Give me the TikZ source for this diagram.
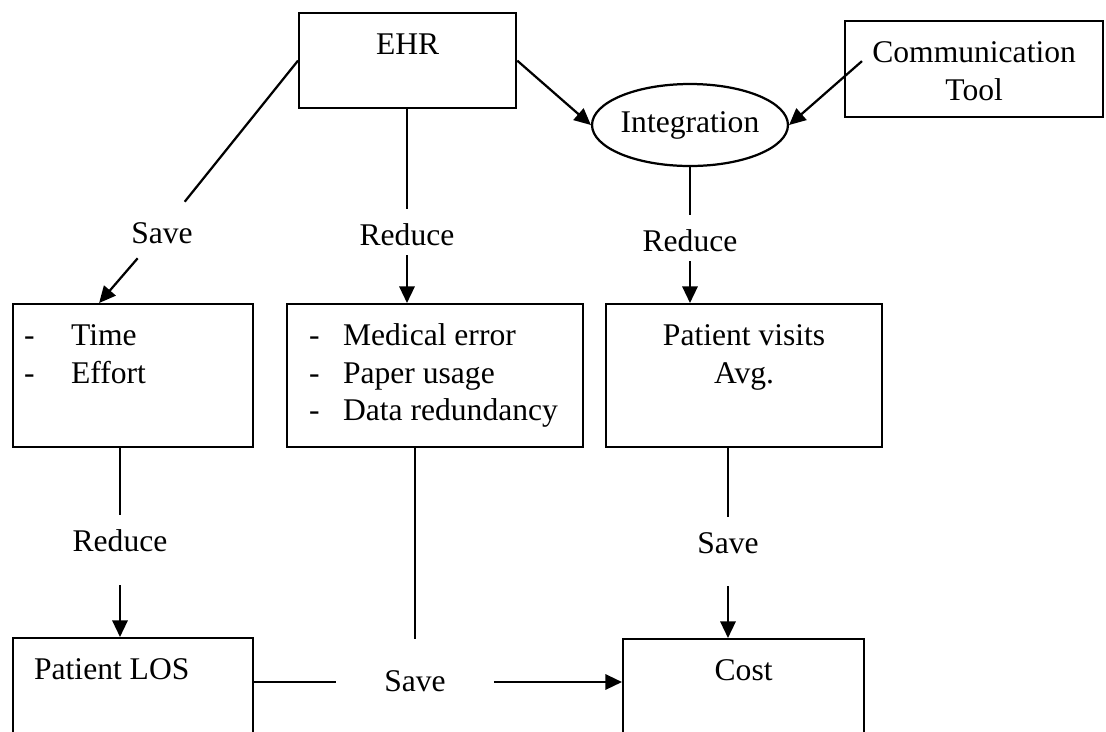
\documentclass[tikz,border=0pt]{standalone}
\usepackage{fontspec}
\setmainfont{Liberation Serif}
\usetikzlibrary{arrows.meta,shapes.geometric}
\newlength\px
\setlength\px{0.38pt}
\newcommand\boxtext[4]{\parbox[c][#2\px][t]{#1\px}{#3\rule{0pt}{41\px}#4}}
\newcommand\dashitem[3]{\hspace*{#1\px}\makebox[#2\px][l]{-}#3}
\begin{document}
\begin{tikzpicture}[x=0.38pt,y=-0.38pt,
  font=\fontsize{12}{14.4}\selectfont,line width=0.85pt,
  >={Triangle[length=6.3pt,width=5.8pt]},
  box/.style={draw,inner sep=0pt,anchor=north west},
  lbl/.style={inner xsep=2pt,inner ysep=9\px,text height=1em,text depth=0pt}]
  \useasboundingbox (0,0) rectangle (1106,731);
  \clip (0,0) rectangle (1106,731);
  \node[box] (ehr) at (298,12) {\boxtext{217}{95}{\centering}{EHR}};
  \node[box] (comm) at (844,20) {\boxtext{258}{96}{\centering}{Communication\\Tool}};
  \node[draw,ellipse,minimum width=187\px,minimum height=82\px,inner sep=0pt] (integ) at (690,125) {Integration};
  \node[box] (time) at (12,303) {\boxtext{240}{143}{\raggedright}{\dashitem{11}{47}{Time}\\\dashitem{11}{47}{Effort}}};
  \node[box] (err) at (286,303) {\boxtext{296}{143}{\raggedright}{\dashitem{22}{34}{Medical error}\\\dashitem{22}{34}{Paper usage}\\\dashitem{22}{34}{Data redundancy}}};
  \node[box] (visits) at (605,303) {\boxtext{276}{143}{\centering}{Patient visits\\Avg.}};
  \node[box] (los) at (12,637) {\boxtext{240}{120}{\raggedright}{\hspace*{21\px}Patient LOS}};
  \node[box] (cost) at (622,638) {\boxtext{241}{120}{\centering}{Cost}};
  \node[lbl,inner ysep=14\px] (s1) at (162,230) {Save};
  \node[lbl] (r1) at (407,232) {Reduce};
  \node[lbl] (r2) at (690,238) {Reduce};
  \node[lbl] (r3) at (120,538) {Reduce};
  \node[lbl] (s2) at (728,540) {Save};
  \node[inner xsep=47\px,inner ysep=33\px,text height=0.7em,text depth=0pt] (s3) at (415,682) {Save};
  \coordinate (ctip) at ([xshift=18\px,yshift=8\px]comm.west);
  \draw (ehr.west) -- (s1);
  \draw[->] (s1) -- ([xshift=-34\px]time.north);
  \draw (ehr.south -| r1) -- (r1);
  \draw[->] (r1) -- (r1 |- err.north);
  \draw[->] (ehr.east) -- (integ.west);
  \draw[->] (ctip) -- (integ.east);
  \draw (integ) -- (r2);
  \draw[->] (r2) -- (r2 |- visits.north);
  \draw (time.south -| r3) -- (r3);
  \draw[->,shorten <=24\px] (r3) -- (r3 |- los.north);
  \draw (visits.south -| s2) -- (s2);
  \draw[->,shorten <=23\px] (s2) -- (s2 |- cost.north);
  \draw (err.south -| s3) -- (s3);
  \draw (los.east |- s3) -- (s3);
  \draw[->] (s3) -- (s3 -| cost.west);
\end{tikzpicture}
\end{document}
